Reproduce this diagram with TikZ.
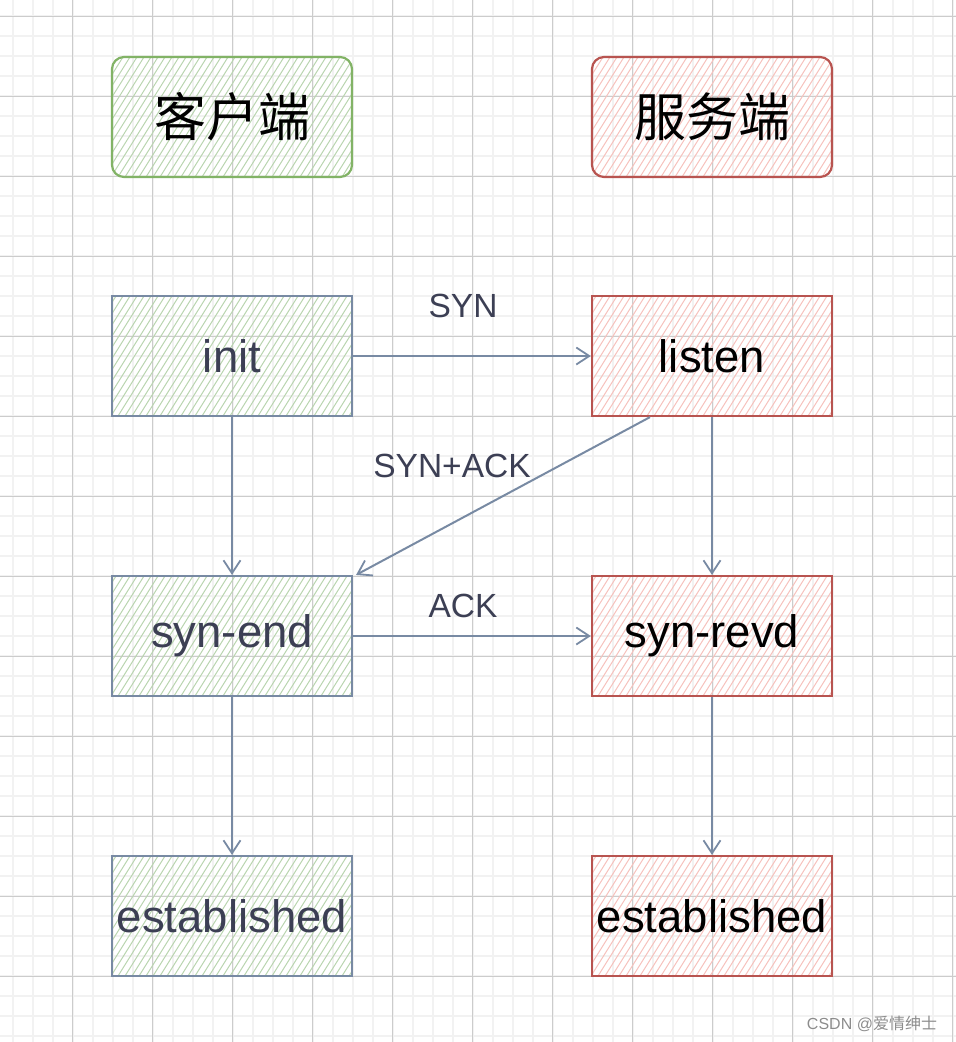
\documentclass[tikz,border=0pt]{standalone}
\usepackage{fontspec}
\setmainfont{Liberation Sans}
\newfontfamily\cjk{Noto Sans CJK SC}
\usepackage{xcolor}
\usepackage{tikz}
\usetikzlibrary{arrows.meta}

\definecolor{grnline}{HTML}{82B366}
\definecolor{grnhatch}{HTML}{BAD5B0}
\definecolor{redline}{HTML}{B85450}
\definecolor{redhatch}{HTML}{F6C2BD}
\definecolor{slate}{HTML}{788AA3}
\definecolor{ink}{HTML}{3C3F54}

\tikzset{
    minorline/.style = {color = black!5, line width = 2pt},
    majorline/.style = {color = black!20, line width = 1pt},
    hatch/.style = {path picture = {
        \foreach \k in {0, ..., 46}
            \draw[#1, line width = 1pt]
                ([xshift = \k*7pt - 78pt]path picture bounding box.south west) -- ++(75, -120);
    }},
    statebox/.style = {rectangle, minimum width = 240pt, minimum height = 120pt,
        inner sep = 0pt, line width = 2.2pt,
        font = \fontsize{45.5}{50}\selectfont},
    clientbox/.style = {statebox, draw = slate, text = ink, hatch = grnhatch},
    serverbox/.style = {statebox, draw = redline, text = black, hatch = redhatch},
    titlebox/.style = {rounded corners = 12pt, font = \cjk\fontsize{52}{56}\selectfont},
    msg/.style = {text = ink, font = \fontsize{33.5}{36}\selectfont},
    flow/.style = {draw = slate, line width = 2pt,
        -{Straight Barb[length = 13pt, width = 17pt, line width = 1.8pt]}}
}

\begin{document}
\begin{tikzpicture}[x = 1pt, y = -1pt]
        \useasboundingbox (0, 0) rectangle (956, 1042);

        \foreach \i in {0, ..., 47}
            \draw[minorline] ({12.7 + 20*\i}, 0) -- ++(0, 1042);
        \foreach \i in {0, ..., 52}
            \draw[minorline] (0, {-4 + 20*\i}) -- ++(956, 0);
        \foreach \i in {0, ..., 11}
            \draw[majorline] ({72.7 + 80*\i}, 0) -- ++(0, 1042);
        \foreach \i in {0, ..., 13}
            \draw[majorline] (0, {16 + 80*\i}) -- ++(956, 0);

        \node[clientbox, titlebox, draw = grnline, text = black] (client) at (232, 117) {客户端};
        \node[serverbox, titlebox] (server) at (712, 117) {服务端};

        \node[clientbox] (init) at (232, 356) {init};
        \node[serverbox] (listen) at (712, 356) {listen};
        \node[clientbox] (synend) at (232, 636) {syn-end};
        \node[serverbox] (synrevd) at (712, 636) {syn-revd};
        \node[clientbox] (cest) at (232, 916) {established};
        \node[serverbox] (sest) at (712, 916) {established};

        \draw[flow] (init.east) -- (listen.west);
        \draw[flow] ([xshift = -62pt]listen.south) -- ([xshift = 3pt]synend.north east);
        \draw[flow] (synend.east) -- (synrevd.west);
        \draw[flow] (init.south) -- (synend.north);
        \draw[flow] (listen.south) -- (synrevd.north);
        \draw[flow] (synend.south) -- (cest.north);
        \draw[flow] (synrevd.south) -- (sest.north);

        \node[msg] (syn) at (463, 306) {SYN};
        \node[msg] (synack) at (452, 466) {SYN+ACK};
        \node[msg] (ack) at (463, 606) {ACK};

        \node[text = black!45, font = \fontsize{16}{18}\selectfont] (mark) at (872, 1024)
            {CSDN @{\cjk 爱情绅士}};
    \end{tikzpicture}
\end{document}
